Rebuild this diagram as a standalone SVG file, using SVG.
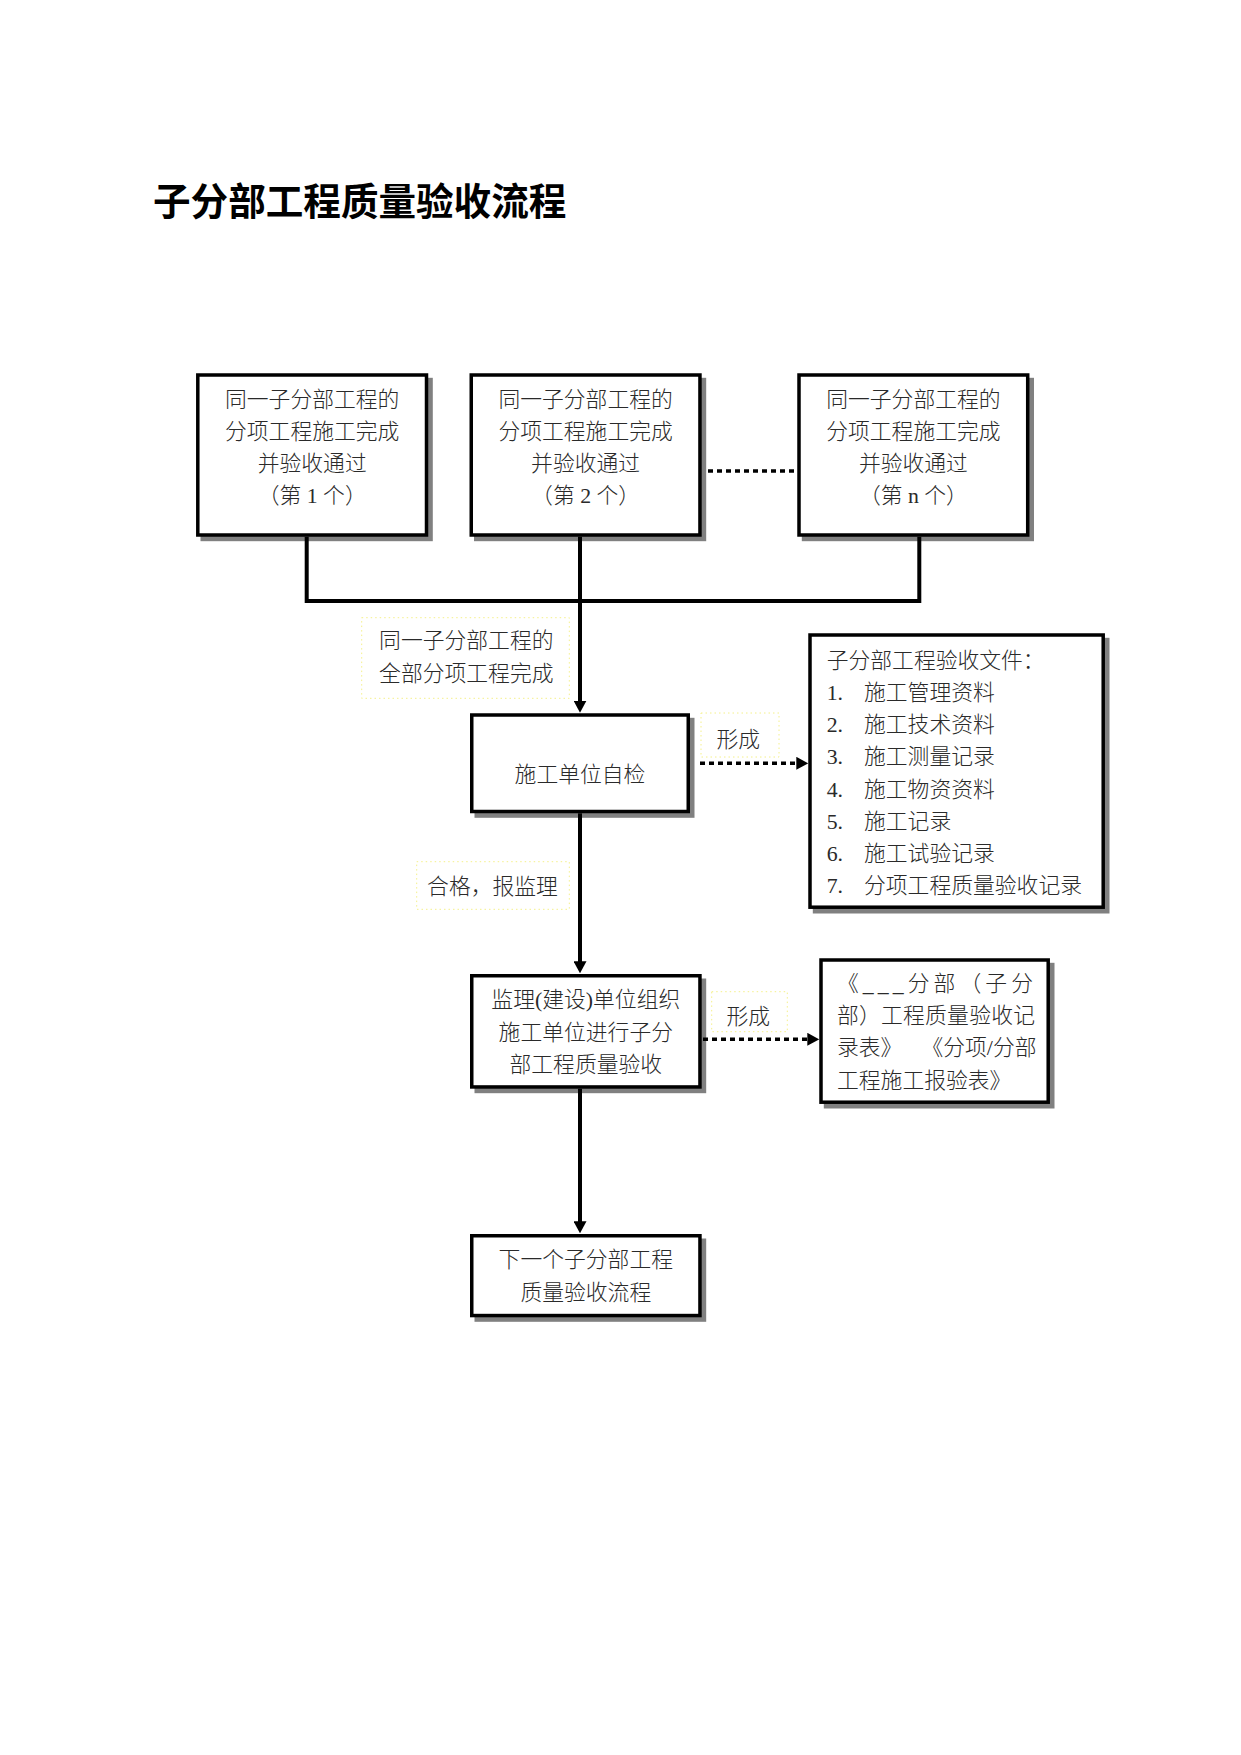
<svg xmlns="http://www.w3.org/2000/svg" width="1241" height="1755" viewBox="0 0 1241 1755">
<style>
.t{font-family:"Liberation Serif","Noto Sans CJK SC",serif;font-size:21.8px;font-weight:300;fill:#2a2a2a}
.c{text-anchor:middle}
.title{font-family:"Noto Sans CJK SC","Liberation Sans",sans-serif;font-size:37.6px;font-weight:bold;fill:#000}
.box{fill:#fff;stroke:#000;stroke-width:3.5}
.sh{fill:#808080}
.lbl{fill:none;stroke:#f4f08a;stroke-width:1;stroke-dasharray:1.5 3}
.solid{fill:none;stroke:#000;stroke-width:4;stroke-linejoin:miter}
.dot{fill:none;stroke:#000;stroke-width:3.5;stroke-dasharray:5 4}
</style>
<defs>
<marker id="ah" markerUnits="userSpaceOnUse" viewBox="0 0 12 13" refX="4" refY="6.5" markerWidth="12" markerHeight="13" orient="auto">
<path d="M0,0 L12,6.5 L0,13 z" fill="#000"/>
</marker>
</defs>
<rect width="1241" height="1755" fill="#fff"/>
<text class="title" x="153" y="215">子分部工程质量验收流程</text>

<g id="node-item1">
<rect class="sh" x="200.5" y="377.8" width="232.3" height="163.4"/>
<rect class="box" x="197.8" y="375" width="228.7" height="160"/>
<text class="t c" x="312.2" y="407">同一子分部工程的</text>
<text class="t c" x="312.2" y="439">分项工程施工完成</text>
<text class="t c" x="312.2" y="471">并验收通过</text>
<text class="t c" x="312.2" y="503">（第 1 个）</text>
</g>
<g id="node-item2">
<rect class="sh" x="474" y="377.8" width="232.2" height="163.4"/>
<rect class="box" x="471.25" y="375" width="228.7" height="160"/>
<text class="t c" x="585.6" y="407">同一子分部工程的</text>
<text class="t c" x="585.6" y="439">分项工程施工完成</text>
<text class="t c" x="585.6" y="471">并验收通过</text>
<text class="t c" x="585.6" y="503">（第 2 个）</text>
</g>
<g id="node-itemn">
<rect class="sh" x="801.8" y="377.8" width="232.2" height="163.4"/>
<rect class="box" x="799" y="375" width="228.7" height="160"/>
<text class="t c" x="913.4" y="407">同一子分部工程的</text>
<text class="t c" x="913.4" y="439">分项工程施工完成</text>
<text class="t c" x="913.4" y="471">并验收通过</text>
<text class="t c" x="913.4" y="503">（第 n 个）</text>
</g>

<g id="node-self-check">
<rect class="sh" x="474.5" y="717.8" width="220" height="100"/>
<rect class="box" x="471.75" y="715" width="216.5" height="96.5"/>
<text class="t c" x="580" y="781.5">施工单位自检</text>
</g>

<g id="node-docs">
<rect class="sh" x="812.8" y="637.8" width="296.7" height="275.7"/>
<rect class="box" x="810" y="635" width="293.2" height="272.2"/>
<text class="t" x="826.7" y="667.6">子分部工程验收文件：</text>
<text class="t" x="826.7" y="699.9">1.</text><text class="t" x="864" y="699.9">施工管理资料</text>
<text class="t" x="826.7" y="732.1">2.</text><text class="t" x="864" y="732.1">施工技术资料</text>
<text class="t" x="826.7" y="764.3">3.</text><text class="t" x="864" y="764.3">施工测量记录</text>
<text class="t" x="826.7" y="796.5">4.</text><text class="t" x="864" y="796.5">施工物资资料</text>
<text class="t" x="826.7" y="828.7">5.</text><text class="t" x="864" y="828.7">施工记录</text>
<text class="t" x="826.7" y="860.9">6.</text><text class="t" x="864" y="860.9">施工试验记录</text>
<text class="t" x="826.7" y="893.1">7.</text><text class="t" x="864" y="893.1">分项工程质量验收记录</text>
</g>

<g id="node-supervision">
<rect class="sh" x="474.5" y="978.5" width="231.7" height="114.7"/>
<rect class="box" x="471.75" y="975.75" width="228.2" height="111.2"/>
<text class="t c" x="585.8" y="1007.3">监理(建设)单位组织</text>
<text class="t c" x="585.8" y="1039.8">施工单位进行子分</text>
<text class="t c" x="585.8" y="1072.3">部工程质量验收</text>
</g>

<g id="node-records">
<rect class="sh" x="823.8" y="962.8" width="230.7" height="145.7"/>
<rect class="box" x="821" y="960" width="227.2" height="142.2"/>
<text class="t" x="837" y="991" textLength="196" lengthAdjust="spacing">《___分部（子分</text>
<text class="t" x="837" y="1023.2" textLength="198" lengthAdjust="spacing">部）工程质量验收记</text>
<text class="t" x="837" y="1055.4">录表》</text>
<text class="t" x="1036.5" y="1055.4" text-anchor="end">《分项/分部</text>
<text class="t" x="837" y="1087.6">工程施工报验表》</text>
</g>

<g id="node-next">
<rect class="sh" x="474.5" y="1238.5" width="231.7" height="83.3"/>
<rect class="box" x="471.75" y="1235.75" width="228.2" height="79.8"/>
<text class="t c" x="585.8" y="1267">下一个子分部工程</text>
<text class="t c" x="585.8" y="1300">质量验收流程</text>
</g>

<g id="labels">
<g id="label-all-done">
<rect class="lbl" x="361.7" y="617.7" width="207.6" height="80.6"/>
<text class="t c" x="466.3" y="648.2">同一子分部工程的</text>
<text class="t c" x="466.3" y="681">全部分项工程完成</text>
</g>
<g id="label-pass">
<rect class="lbl" x="416.7" y="861.7" width="152.6" height="47.6"/>
<text class="t c" x="492.5" y="893.7">合格，报监理</text>
</g>
<g id="label-form1">
<rect class="lbl" x="701" y="713" width="78" height="44"/>
<text class="t c" x="738.2" y="747">形成</text>
</g>
<g id="label-form2">
<rect class="lbl" x="711.7" y="991.7" width="75.6" height="40"/>
<text class="t c" x="748.3" y="1023.5">形成</text>
</g>
</g>

<g id="connectors">
<polyline class="solid" points="306.7,536.7 306.7,601 919.3,601 919.3,536.7"/>
<line class="solid" x1="580" y1="536.7" x2="580" y2="704.7" marker-end="url(#ah)"/>
<line class="solid" x1="580" y1="813.3" x2="580" y2="965.3" marker-end="url(#ah)"/>
<line class="solid" x1="580" y1="1088.7" x2="580" y2="1225.3" marker-end="url(#ah)"/>
<line class="dot" x1="708" y1="471" x2="797" y2="471"/>
<line class="dot" x1="700" y1="763.3" x2="800.3" y2="763.3" marker-end="url(#ah)"/>
<line class="dot" x1="703" y1="1039.3" x2="811.3" y2="1039.3" marker-end="url(#ah)"/>
</g>
</svg>
